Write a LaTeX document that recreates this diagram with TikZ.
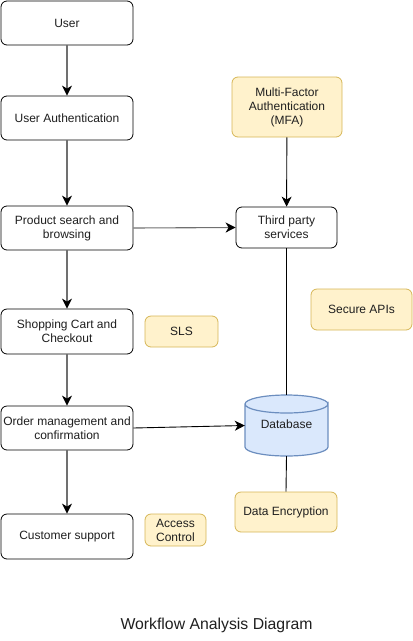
\documentclass[tikz,border=0pt]{standalone}
\usepackage{fontspec}
\setmainfont{Liberation Sans}
\usetikzlibrary{arrows.meta}
\definecolor{yfill}{HTML}{FFF2CC}
\definecolor{ydraw}{HTML}{D6B656}
\definecolor{bfill}{HTML}{DAE8FC}
\definecolor{bdraw}{HTML}{6C8EBF}
\definecolor{lgray}{HTML}{707070}
\tikzset{
  box/.style={draw=black, fill=white, rounded corners=6pt, line width=0.8pt, align=center, inner sep=1pt, font=\fontsize{12}{14}\selectfont, text=black!88},
  ybox/.style={draw=ydraw, fill=yfill, rounded corners=6pt, line width=0.8pt, align=center, inner sep=1pt, font=\fontsize{12}{14}\selectfont, text=black!88},
  garrow/.style={draw=lgray, line width=1.1pt, -{Stealth[length=10pt,width=10pt,inset=3pt,color=black]}},
  barrow/.style={draw=black, line width=0.9pt, -{Stealth[length=10pt,width=10pt,inset=3pt,color=black]}},
  bline/.style={draw=black, line width=0.9pt},
}
\begin{document}
\begin{tikzpicture}[x=1pt,y=-1pt]
\useasboundingbox (0,0) rectangle (413,641);
% left column
\node[box, minimum width=132pt, minimum height=44pt] (user) at (67,23) {User};
\node[box, minimum width=132pt, minimum height=44pt] (auth) at (67,118) {User Authentication};
\node[box, minimum width=132pt, minimum height=44pt] (prod) at (67,228) {Product search and\\browsing};
\node[box, minimum width=132pt, minimum height=45pt] (cart) at (67,331.5) {Shopping Cart and\\Checkout};
\node[box, minimum width=132pt, minimum height=44pt] (order) at (67,428) {Order management and\\confirmation};
\node[box, minimum width=132pt, minimum height=45pt] (supp) at (67,536.5) {Customer support};
% yellow notes
\node[ybox, minimum width=110pt, minimum height=60pt] (mfa) at (287,107) {Multi-Factor\\Authentication\\(MFA)};
\node[ybox, minimum width=101pt, minimum height=41pt] (apis) at (361.5,309.5) {Secure APIs};
\node[ybox, minimum width=73pt, minimum height=31pt] (sls) at (181.5,331.5) {SLS};
\node[ybox, minimum width=61pt, minimum height=32pt] (acc) at (175.5,530) {Access\\Control};
\node[ybox, minimum width=102pt, minimum height=40pt] (enc) at (286,512) {Data Encryption};
% third party
\node[box, minimum width=101pt, minimum height=41pt] (third) at (286.5,227.5) {Third party\\services};
% database cylinder
\node[minimum width=83pt, minimum height=61pt, inner sep=0pt] (db) at (286.5,425.5) {};
\fill[bfill] (245,404) -- (245,447) arc[start angle=180, end angle=360, x radius=41.5pt, y radius=9pt] -- (328,404) arc[start angle=0, end angle=180, x radius=41.5pt, y radius=9pt] -- cycle;
\draw[bdraw, line width=1.2pt] (245,404) -- (245,447) arc[start angle=180, end angle=360, x radius=41.5pt, y radius=9pt] -- (328,404) arc[start angle=0, end angle=-180, x radius=41.5pt, y radius=9pt] arc[start angle=180, end angle=0, x radius=41.5pt, y radius=9pt];
\node[font=\fontsize{12}{14}\selectfont, text=black!88] at (286.5,424) {Database};
% connectors
\draw[garrow] (user) -- (auth);
\draw[garrow] (auth) -- (prod);
\draw[garrow] (prod) -- (cart);
\draw[garrow] (cart) -- (order);
\draw[garrow] (order) -- (supp);
\draw[garrow] (prod.east) -- (third.west);
\draw[barrow] (mfa) -- (third);
\draw[bline] (third.south) -- (db.north);
\draw[barrow] (order.east) -- (db.west);
\draw[bline] (db.south) -- (enc.north);
% title
\node[font=\fontsize{15.8}{18}\selectfont, text=black!88] (title) at (216.5,625) {Workflow Analysis Diagram};
\end{tikzpicture}
\end{document}
